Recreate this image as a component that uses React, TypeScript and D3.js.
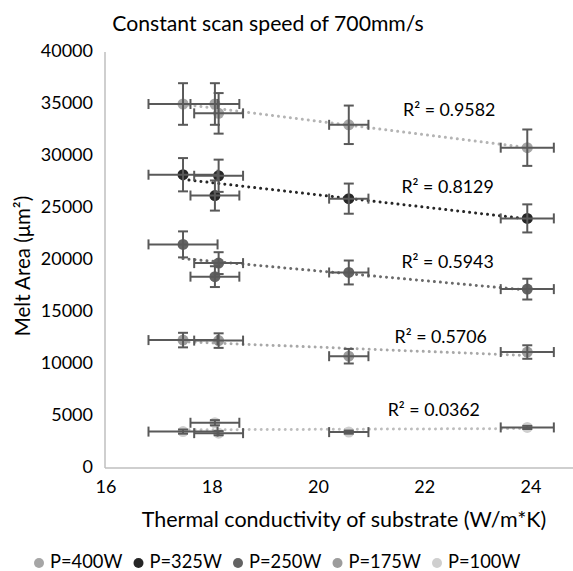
import React from "react";
import * as d3 from "d3";

// Thermal conductivity of the five substrates (W/m*K) and their x uncertainty
const substrateX = [17.45, 18.05, 18.12, 20.57, 23.93];
const substrateXErr = [0.65, 0.46, 0.46, 0.37, 0.5];

// Melt area (µm²) per laser power; null = no point
const p400 = [35000, 35000, 34100, 33000, 30800];
const p400Err = [2000, 2000, 1950, 1850, 1750];
const p325 = [28200, 26200, 28100, 25900, 24000];
const p325Err = [1600, 1450, 1550, 1450, 1350];
const p250 = [21500, 18400, 19700, 18800, 17200];
const p250Err = [1250, 1000, 1050, 1150, 1000];
const p175: (number | null)[] = [12300, null, 12250, 10750, 11150];
const p175Err = [700, 0, 700, 700, 650];
const p100 = [3500, 4350, 3350, 3450, 3900];
const p100Err = [200, 250, 200, 150, 150];

const seriesNames = ["P=400W", "P=325W", "P=250W", "P=175W", "P=100W"];
const seriesColors = ["#a6a6a6", "#262626", "#636363", "#9c9c9c", "#cfcfcf"];
const trendColors = ["#b4b4b4", "#262626", "#6a6a6a", "#a8a8a8", "#bdbdbd"];
const rSquared = ["R² = 0.9582", "R² = 0.8129", "R² = 0.5943", "R² = 0.5706", "R² = 0.0362"];
// R² annotation anchor points, in data units
const rLabelX = [22.46, 22.43, 22.43, 22.3, 22.17];
const rLabelY = [34260, 26890, 19680, 12470, 5410];

const xTicks = [16, 18, 20, 22, 24];
const yTicks = [0, 5000, 10000, 15000, 20000, 25000, 30000, 35000, 40000];

const W = 573;
const H = 571;
const FONT = "Lato, 'Open Sans', sans-serif";
const ERR = "#595959";

export default function App() {
  const x = d3.scaleLinear().domain([16, 24]).range([106, 531]);
  const y = d3.scaleLinear().domain([0, 40000]).range([468, 52]);
  const values = [p400, p325, p250, p175, p100];
  const errs = [p400Err, p325Err, p250Err, p175Err, p100Err];

  const line = d3
    .line<[number, number]>()
    .x((d) => x(d[0]))
    .y((d) => y(d[1]));

  const trend = (vals: (number | null)[]) => {
    const pts = vals
      .map((v, i) => [substrateX[i], v] as [number, number | null])
      .filter((p) => p[1] !== null) as [number, number][];
    const mx = d3.mean(pts, (p) => p[0])!;
    const my = d3.mean(pts, (p) => p[1])!;
    let sxy = 0, sxx = 0;
    pts.forEach(([a, b]) => {
      sxy += (a - mx) * (b - my);
      sxx += (a - mx) * (a - mx);
    });
    const slope = sxy / sxx;
    const b0 = my - slope * mx;
    const [x0, x1] = d3.extent(pts, (p) => p[0]) as [number, number];
    return [
      [x0, b0 + slope * x0],
      [x1, b0 + slope * x1],
    ] as [number, number][];
  };

  const cap = 5;

  return (
    <svg
      width={W}
      height={H}
      style={{ position: "absolute", left: 0, top: 0, background: "#fff" }}
      fontFamily={FONT}
    >
      <rect width={W} height={H} fill="#fff" />
      <text x={268} y={26} textAnchor="middle" dominantBaseline="middle" fontSize={21.2} fill="#000">
        Constant scan speed of 700mm/s
      </text>

      {/* axes */}
      <line x1={105} x2={105} y1={y(40000)} y2={y(0)} stroke="#bfbfbf" strokeWidth={1.5} />
      <line x1={105} x2={W} y1={y(0)} y2={y(0)} stroke="#bfbfbf" strokeWidth={1.5} />

      {yTicks.map((t) => (
        <text key={t} x={93} y={y(t)} textAnchor="end" dominantBaseline="middle" fontSize={18} fill="#000">
          {t}
        </text>
      ))}
      {xTicks.map((t) => (
        <text key={t} x={x(t)} y={488} textAnchor="middle" dominantBaseline="middle" fontSize={18} fill="#000">
          {t}
        </text>
      ))}
      <text x={344} y={522} textAnchor="middle" dominantBaseline="middle" fontSize={21.5} fill="#000">
        Thermal conductivity of substrate (W/m*K)
      </text>
      <text
        transform={`translate(25,266) rotate(-90)`}
        textAnchor="middle"
        dominantBaseline="middle"
        fontSize={20.5}
        fill="#000"
      >
        Melt Area (μm²)
      </text>

      {/* trendlines */}
      {values.map((vals, s) => (
        <path
          key={"t" + s}
          d={line(trend(vals))!}
          fill="none"
          stroke={trendColors[s]}
          strokeWidth={3}
          strokeLinecap="round"
          strokeDasharray="0.01 6"
        />
      ))}

      {/* points with error bars */}
      {values.map((vals, s) => (
        <g key={"s" + s}>
          {vals.map((v, i) => {
            if (v === null) return null;
            const cx = x(substrateX[i]);
            const cy = y(v);
            return <circle key={"c" + i} cx={cx} cy={cy} r={5.5} fill={seriesColors[s]} />;
          })}
          {vals.map((v, i) => {
            if (v === null) return null;
            const cx = x(substrateX[i]);
            const cy = y(v);
            const xl = x(substrateX[i] - substrateXErr[i]);
            const xr = x(substrateX[i] + substrateXErr[i]);
            const yt = y(v + errs[s][i]);
            const yb = y(v - errs[s][i]);
            return (
              <g key={"e" + i} stroke={ERR} strokeWidth={2} fill="none">
                <line x1={xl} x2={xr} y1={cy} y2={cy} />
                <line x1={xl} x2={xl} y1={cy - cap} y2={cy + cap} />
                <line x1={xr} x2={xr} y1={cy - cap} y2={cy + cap} />
                <line x1={cx} x2={cx} y1={yt} y2={yb} />
                <line x1={cx - cap} x2={cx + cap} y1={yt} y2={yt} />
                <line x1={cx - cap} x2={cx + cap} y1={yb} y2={yb} />
              </g>
            );
          })}
        </g>
      ))}

      {/* R² labels */}
      {rSquared.map((r, s) => (
        <text
          key={"r" + s}
          x={x(rLabelX[s])}
          y={y(rLabelY[s])}
          textAnchor="middle"
          dominantBaseline="middle"
          fontSize={17.8}
          fill="#000"
        >
          {r}
        </text>
      ))}

      {/* legend */}
      {seriesNames.map((n, s) => (
        <g key={"l" + s} transform={`translate(${39 + s * 99.5},563)`}>
          <circle r={5} fill={seriesColors[s]} />
          <text x={11} y={0} dominantBaseline="middle" fontSize={18.3} fill="#000">
            {n}
          </text>
        </g>
      ))}
    </svg>
  );
}
